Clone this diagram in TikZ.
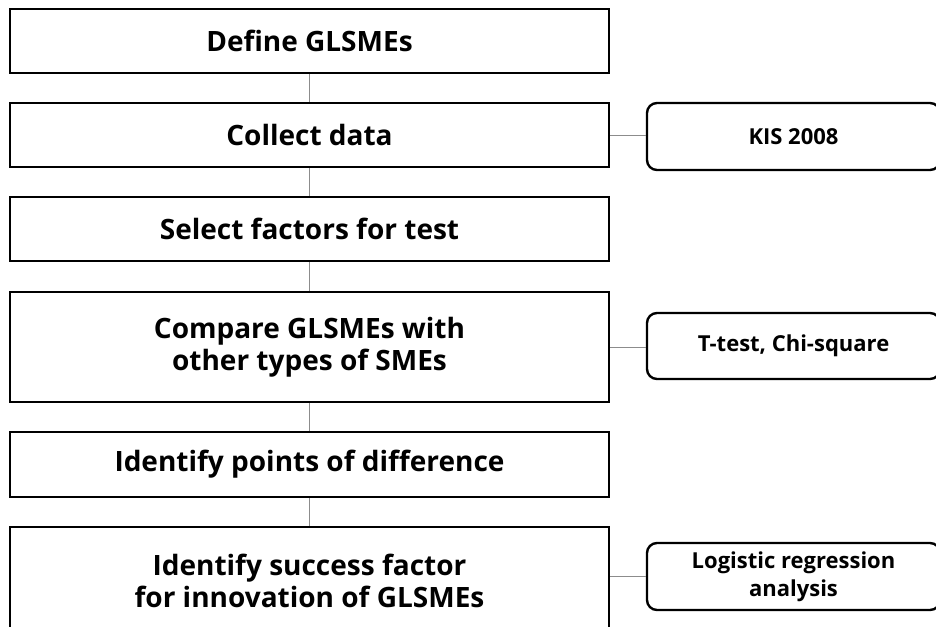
\documentclass[tikz,border=0pt]{standalone}
\usepackage{fontspec}
\setmainfont{Open Sans}
\begin{document}
\begin{tikzpicture}[x=1pt,y=-1pt,
  stepbox/.style={draw=black, line width=2.6pt, fill=white, minimum width=599pt,
    inner sep=0pt, align=center, font=\bfseries\fontsize{28}{32}\selectfont},
  toolbox/.style={draw=black, line width=2.4pt, fill=white, rounded corners=10pt,
    minimum width=293pt, inner sep=0pt, align=center, font=\bfseries\fontsize{22}{28}\selectfont},
  link/.style={draw=black!45, line width=1pt}]
  \useasboundingbox (0,0) rectangle (936,626);
  \clip (0,0) rectangle (936,626);

  % main steps
  \node[stepbox, minimum height=64pt] (b1) at (309.5,41) {Define GLSMEs};
  \node[stepbox, minimum height=64pt] (b2) at (309.5,135) {Collect data};
  \node[stepbox, minimum height=64pt] (b3) at (309.5,229) {Select factors for test};
  \node[stepbox, minimum height=110pt] (b4) at (309.5,347) {Compare GLSMEs with\\other types of SMEs};
  \node[stepbox, minimum height=65pt] (b5) at (309.5,464.5) {Identify points of difference};
  \node[stepbox, minimum height=107pt] (b6) at (309.5,580.5) {Identify success factor\\for innovation of GLSMEs};

  % methods and data sources
  \node[toolbox, minimum height=67pt] (r1) at (793.5,136.5) {KIS 2008};
  \node[toolbox, minimum height=66pt] (r2) at (793.5,346) {T-test, Chi-square};
  \node[toolbox, minimum height=67pt] (r3) at (793.5,576.5) {Logistic regression\\analysis};

  % thin links between the steps
  \draw[link] (b1.south) -- (b2.north);
  \draw[link] (b2.south) -- (b3.north);
  \draw[link] (b3.south) -- (b4.north);
  \draw[link] (b4.south) -- (b5.north);
  \draw[link] (b5.south) -- (b6.north);

  % links to the methods
  \draw[link] (b2.east) -- (r1.west |- b2.east);
  \draw[link] (b4.east) -- (r2.west |- b4.east);
  \draw[link] (b6.east |- r3.west) -- (r3.west);
\end{tikzpicture}
\end{document}
